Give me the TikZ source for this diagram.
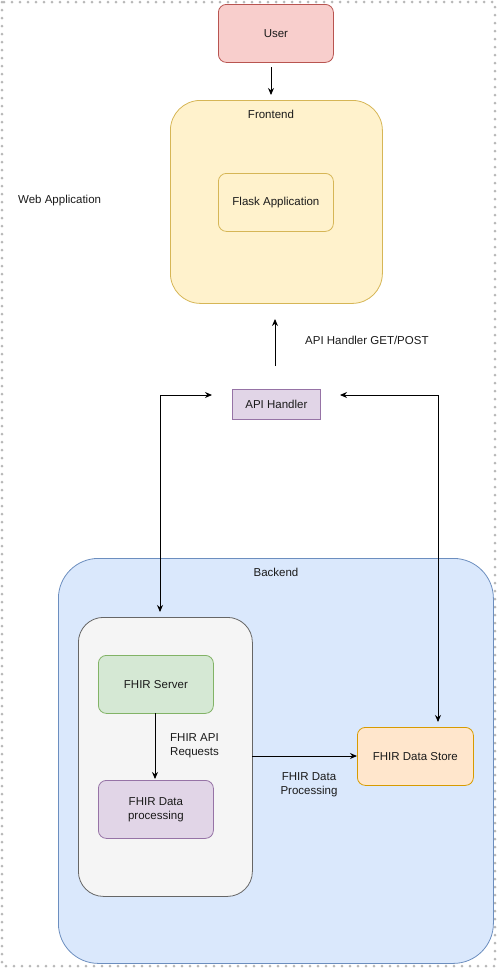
\documentclass[tikz,border=0pt]{standalone}
\usepackage{fontspec}
\setmainfont{Liberation Sans}
\usetikzlibrary{arrows.meta}
\definecolor{redF}{HTML}{F8CECC}\definecolor{redS}{HTML}{B85450}
\definecolor{yelF}{HTML}{FFF2CC}\definecolor{yelS}{HTML}{D6B656}
\definecolor{purF}{HTML}{E1D5E7}\definecolor{purS}{HTML}{9673A6}
\definecolor{bluF}{HTML}{DAE8FC}\definecolor{bluS}{HTML}{6C8EBF}
\definecolor{gryF}{HTML}{F5F5F5}\definecolor{gryS}{HTML}{666666}
\definecolor{grnF}{HTML}{D5E8D4}\definecolor{grnS}{HTML}{82B366}
\definecolor{orgF}{HTML}{FFE6CC}\definecolor{orgS}{HTML}{D79B00}
\definecolor{txt}{HTML}{1A1A1A}
\tikzset{
  x=1pt,y=-1pt,
  box/.style={draw, line width=0.8pt, anchor=north west, inner sep=0pt, align=center, text=txt},
  lbl/.style={text=txt, inner sep=0pt, align=left},
  arr/.style={line width=0.9pt, -{Stealth[length=7pt,width=6pt]}},
  darr/.style={line width=0.9pt, {Stealth[length=7pt,width=6pt]}-{Stealth[length=7pt,width=6pt]}},
}
\begin{document}
\begin{tikzpicture}[font=\fontsize{11.5}{14}\selectfont]
\useasboundingbox (0,0) rectangle (498,970);
\draw[color=black!28, line width=3pt, line cap=round, dash pattern=on 0pt off 8pt] (2,2) rectangle (495,966);

% containers
\node[box, fill=yelF, draw=yelS, rounded corners=30pt, minimum width=212pt, minimum height=203pt] (frontend) at (170,100) {};
\node[box, fill=bluF, draw=bluS, rounded corners=40pt, minimum width=435pt, minimum height=405pt] (backend) at (58,558) {};
\node[box, fill=gryF, draw=gryS, rounded corners=25pt, minimum width=174pt, minimum height=279pt] (grey) at (78,617) {};

% boxes
\node[box, fill=redF, draw=redS, rounded corners=8pt, minimum width=115pt, minimum height=58pt] (user) at (218,4) {User};
\node[box, fill=yelF, draw=yelS, rounded corners=8pt, minimum width=115pt, minimum height=58pt] (flask) at (218,173) {Flask Application};
\node[box, fill=purF, draw=purS, minimum width=88pt, minimum height=30pt] (api) at (232,389) {API Handler};
\node[box, fill=grnF, draw=grnS, rounded corners=8pt, minimum width=115pt, minimum height=58pt] (server) at (98,655) {FHIR Server};
\node[box, fill=purF, draw=purS, rounded corners=8pt, minimum width=115pt, minimum height=58pt] (proc) at (98,780) {FHIR Data\\processing};
\node[box, fill=orgF, draw=orgS, rounded corners=8pt, minimum width=116pt, minimum height=58pt] (store) at (357,727) {FHIR Data Store};

% labels
\node[lbl] (lfront) at (271,114) {Frontend};
\node[lbl] (lback) at (276,572) {Backend};
\node[lbl, anchor=west] (lweb) at (18,201) {Web Application};
\node[lbl, anchor=west] (lget) at (305,340) {API Handler GET/POST};
\node[lbl, anchor=west] (lreq) at (170,746) {FHIR API\\Requests};
\node[lbl, align=center] (lproc) at (309,785) {FHIR Data\\Processing};

% coordinates for free ends
\coordinate (u1) at (271,67);
\coordinate (u2) at (271,95);
\coordinate (a1) at (275,366);
\coordinate (a2) at (275,319);
\coordinate (l1) at (212,395);
\coordinate (lc) at (160,395);
\coordinate (l2) at (160,612);
\coordinate (r1) at (340,395);
\coordinate (rc) at (438,395);
\coordinate (r2) at (438,722);
\coordinate (s1) at (155,713);
\coordinate (s2) at (155,779);
\coordinate (g1) at (252,756);
\coordinate (g2) at (357,756);

% connectors
\draw[arr] (u1) -- (u2);
\draw[arr] (a1) -- (a2);
\draw[darr] (l2) -- (lc) -- (l1);
\draw[darr] (r2) -- (rc) -- (r1);
\draw[arr] (s1) -- (s2);
\draw[arr] (g1) -- (g2);
\end{tikzpicture}
\end{document}
